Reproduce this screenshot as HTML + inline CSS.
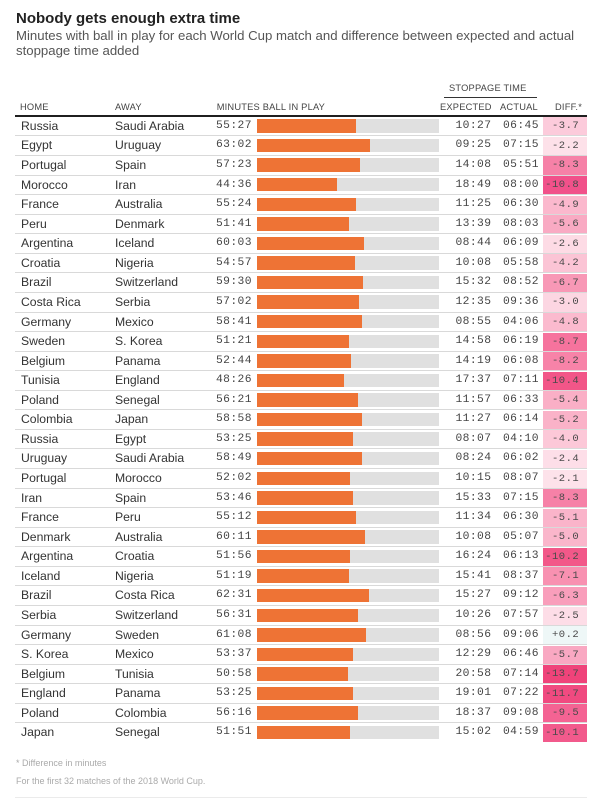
<!DOCTYPE html>
<html><head><meta charset="utf-8">
<style>
html,body{margin:0;padding:0;background:#fff;}
body{width:600px;height:799px;position:relative;overflow:hidden;font-family:"Liberation Sans",sans-serif;}
.t{position:absolute;left:16px;top:11.3px;font-weight:bold;font-size:15px;line-height:15px;color:#222;white-space:nowrap;}
.st{position:absolute;left:16px;top:28px;font-size:13.2px;line-height:15px;color:#555;white-space:nowrap;}
.hd{position:absolute;font-size:9.3px;line-height:12px;color:#444;letter-spacing:0.2px;white-space:nowrap;}
.thick{position:absolute;left:15px;width:572px;top:114.8px;height:2px;background:#1f1f1f;}
.sl{position:absolute;left:444px;width:93px;top:97px;height:1px;background:#333;}
.r{position:absolute;left:0;width:600px;height:19.57px;line-height:19.57px;}
.r::before{content:"";position:absolute;left:15px;width:572px;top:-1px;height:1px;background:#d9d9d9;}
.r.f::before{display:none;}
.r span{position:absolute;top:0;white-space:nowrap;}
.h,.a{font-size:12.2px;color:#333;}
.h{left:21px;}
.a{left:115px;}
.m,.e,.c{font-family:"Liberation Mono",monospace;font-size:11.3px;letter-spacing:0.4px;color:#444;}
.m{left:216px;}
.e{left:455.5px;}
.c{left:503px;}
.bg{position:absolute;left:256.7px;top:2.5px;height:13.4px;width:182px;background:#e0e0e0;}
.fg{position:absolute;left:256.7px;top:2.5px;height:13.4px;background:#ee7335;}
.r b{position:absolute;left:543.3px;top:0.5px;width:43.4px;height:18.5px;line-height:18.5px;text-align:right;box-sizing:border-box;padding-right:7.5px;font-weight:normal;font-family:"Liberation Mono",monospace;font-size:10.5px;letter-spacing:0.5px;color:#4a4a4a;white-space:nowrap;}
.ft{position:absolute;left:16px;font-size:9px;line-height:12px;color:#aaa;white-space:nowrap;}
.bl{position:absolute;left:15px;width:572px;top:797px;height:1px;background:#ebebeb;}
</style></head><body>
<div class="t">Nobody gets enough extra time</div>
<div class="st">Minutes with ball in play for each World Cup match and difference between expected and actual<br>stoppage time added</div>

<div class="hd" style="left:449px;top:82.3px;">STOPPAGE TIME</div>
<div class="sl"></div>
<div class="hd" style="left:20px;top:101px;">HOME</div>
<div class="hd" style="left:115px;top:101px;">AWAY</div>
<div class="hd" style="left:216.7px;top:101px;">MINUTES BALL IN PLAY</div>
<div class="hd" style="left:440px;top:101px;">EXPECTED</div>
<div class="hd" style="left:500px;top:101px;">ACTUAL</div>
<div class="hd" style="left:555px;top:101px;">DIFF.*</div>
<div class="thick"></div>

<div class="r f" style="top:116.8px"><span class="h">Russia</span><span class="a">Saudi Arabia</span><span class="m">55:27</span><i class="bg"></i><i class="fg" style="width:99.5px"></i><span class="e">10:27</span><span class="c">06:45</span><b style="background:#fccbdb">-3.7</b></div>
<div class="r" style="top:136.37px"><span class="h">Egypt</span><span class="a">Uruguay</span><span class="m">63:02</span><i class="bg"></i><i class="fg" style="width:113.1px"></i><span class="e">09:25</span><span class="c">07:15</span><b style="background:#fde1e9">-2.2</b></div>
<div class="r" style="top:155.94px"><span class="h">Portugal</span><span class="a">Spain</span><span class="m">57:23</span><i class="bg"></i><i class="fg" style="width:103px"></i><span class="e">14:08</span><span class="c">05:51</span><b style="background:#f681a7">-8.3</b></div>
<div class="r" style="top:175.51px"><span class="h">Morocco</span><span class="a">Iran</span><span class="m">44:36</span><i class="bg"></i><i class="fg" style="width:80.1px"></i><span class="e">18:49</span><span class="c">08:00</span><b style="background:#f1518a">-10.8</b></div>
<div class="r" style="top:195.08px"><span class="h">France</span><span class="a">Australia</span><span class="m">55:24</span><i class="bg"></i><i class="fg" style="width:99.4px"></i><span class="e">11:25</span><span class="c">06:30</span><b style="background:#fbb8cd">-4.9</b></div>
<div class="r" style="top:214.65px"><span class="h">Peru</span><span class="a">Denmark</span><span class="m">51:41</span><i class="bg"></i><i class="fg" style="width:92.8px"></i><span class="e">13:39</span><span class="c">08:03</span><b style="background:#f9aac3">-5.6</b></div>
<div class="r" style="top:234.22px"><span class="h">Argentina</span><span class="a">Iceland</span><span class="m">60:03</span><i class="bg"></i><i class="fg" style="width:107.8px"></i><span class="e">08:44</span><span class="c">06:09</span><b style="background:#fddbe5">-2.6</b></div>
<div class="r" style="top:253.79px"><span class="h">Croatia</span><span class="a">Nigeria</span><span class="m">54:57</span><i class="bg"></i><i class="fg" style="width:98.6px"></i><span class="e">10:08</span><span class="c">05:58</span><b style="background:#fbc4d5">-4.2</b></div>
<div class="r" style="top:273.36px"><span class="h">Brazil</span><span class="a">Switzerland</span><span class="m">59:30</span><i class="bg"></i><i class="fg" style="width:106.8px"></i><span class="e">15:32</span><span class="c">08:52</span><b style="background:#f898b6">-6.7</b></div>
<div class="r" style="top:292.93px"><span class="h">Costa Rica</span><span class="a">Serbia</span><span class="m">57:02</span><i class="bg"></i><i class="fg" style="width:102.4px"></i><span class="e">12:35</span><span class="c">09:36</span><b style="background:#fcd6e2">-3.0</b></div>
<div class="r" style="top:312.5px"><span class="h">Germany</span><span class="a">Mexico</span><span class="m">58:41</span><i class="bg"></i><i class="fg" style="width:105.3px"></i><span class="e">08:55</span><span class="c">04:06</span><b style="background:#fbbace">-4.8</b></div>
<div class="r" style="top:332.07px"><span class="h">Sweden</span><span class="a">S. Korea</span><span class="m">51:21</span><i class="bg"></i><i class="fg" style="width:92.2px"></i><span class="e">14:58</span><span class="c">06:19</span><b style="background:#f6739d">-8.7</b></div>
<div class="r" style="top:351.64px"><span class="h">Belgium</span><span class="a">Panama</span><span class="m">52:44</span><i class="bg"></i><i class="fg" style="width:94.7px"></i><span class="e">14:19</span><span class="c">06:08</span><b style="background:#f783a8">-8.2</b></div>
<div class="r" style="top:371.21px"><span class="h">Tunisia</span><span class="a">England</span><span class="m">48:26</span><i class="bg"></i><i class="fg" style="width:86.9px"></i><span class="e">17:37</span><span class="c">07:11</span><b style="background:#f25688">-10.4</b></div>
<div class="r" style="top:390.78px"><span class="h">Poland</span><span class="a">Senegal</span><span class="m">56:21</span><i class="bg"></i><i class="fg" style="width:101.1px"></i><span class="e">11:57</span><span class="c">06:33</span><b style="background:#faafc6">-5.4</b></div>
<div class="r" style="top:410.35px"><span class="h">Colombia</span><span class="a">Japan</span><span class="m">58:58</span><i class="bg"></i><i class="fg" style="width:105.8px"></i><span class="e">11:27</span><span class="c">06:14</span><b style="background:#fab2c8">-5.2</b></div>
<div class="r" style="top:429.92px"><span class="h">Russia</span><span class="a">Egypt</span><span class="m">53:25</span><i class="bg"></i><i class="fg" style="width:95.9px"></i><span class="e">08:07</span><span class="c">04:10</span><b style="background:#fcc8d8">-4.0</b></div>
<div class="r" style="top:449.49px"><span class="h">Uruguay</span><span class="a">Saudi Arabia</span><span class="m">58:49</span><i class="bg"></i><i class="fg" style="width:105.6px"></i><span class="e">08:24</span><span class="c">06:02</span><b style="background:#fddee8">-2.4</b></div>
<div class="r" style="top:469.06px"><span class="h">Portugal</span><span class="a">Morocco</span><span class="m">52:02</span><i class="bg"></i><i class="fg" style="width:93.4px"></i><span class="e">10:15</span><span class="c">08:07</span><b style="background:#fde2ea">-2.1</b></div>
<div class="r" style="top:488.63px"><span class="h">Iran</span><span class="a">Spain</span><span class="m">53:46</span><i class="bg"></i><i class="fg" style="width:96.5px"></i><span class="e">15:33</span><span class="c">07:15</span><b style="background:#f681a7">-8.3</b></div>
<div class="r" style="top:508.2px"><span class="h">France</span><span class="a">Peru</span><span class="m">55:12</span><i class="bg"></i><i class="fg" style="width:99.1px"></i><span class="e">11:34</span><span class="c">06:30</span><b style="background:#fab4ca">-5.1</b></div>
<div class="r" style="top:527.77px"><span class="h">Denmark</span><span class="a">Australia</span><span class="m">60:11</span><i class="bg"></i><i class="fg" style="width:108px"></i><span class="e">10:08</span><span class="c">05:07</span><b style="background:#fab6cb">-5.0</b></div>
<div class="r" style="top:547.34px"><span class="h">Argentina</span><span class="a">Croatia</span><span class="m">51:56</span><i class="bg"></i><i class="fg" style="width:93.2px"></i><span class="e">16:24</span><span class="c">06:13</span><b style="background:#f25889">-10.2</b></div>
<div class="r" style="top:566.91px"><span class="h">Iceland</span><span class="a">Nigeria</span><span class="m">51:19</span><i class="bg"></i><i class="fg" style="width:92.1px"></i><span class="e">15:41</span><span class="c">08:37</span><b style="background:#f891b1">-7.1</b></div>
<div class="r" style="top:586.48px"><span class="h">Brazil</span><span class="a">Costa Rica</span><span class="m">62:31</span><i class="bg"></i><i class="fg" style="width:112.2px"></i><span class="e">15:27</span><span class="c">09:12</span><b style="background:#f99ebb">-6.3</b></div>
<div class="r" style="top:606.05px"><span class="h">Serbia</span><span class="a">Switzerland</span><span class="m">56:31</span><i class="bg"></i><i class="fg" style="width:101.4px"></i><span class="e">10:26</span><span class="c">07:57</span><b style="background:#fddde7">-2.5</b></div>
<div class="r" style="top:625.62px"><span class="h">Germany</span><span class="a">Sweden</span><span class="m">61:08</span><i class="bg"></i><i class="fg" style="width:109.7px"></i><span class="e">08:56</span><span class="c">09:06</span><b style="background:#eef7f7">+0.2</b></div>
<div class="r" style="top:645.19px"><span class="h">S. Korea</span><span class="a">Mexico</span><span class="m">53:37</span><i class="bg"></i><i class="fg" style="width:96.2px"></i><span class="e">12:29</span><span class="c">06:46</span><b style="background:#f9a8c2">-5.7</b></div>
<div class="r" style="top:664.76px"><span class="h">Belgium</span><span class="a">Tunisia</span><span class="m">50:58</span><i class="bg"></i><i class="fg" style="width:91.5px"></i><span class="e">20:58</span><span class="c">07:14</span><b style="background:#ef437a">-13.7</b></div>
<div class="r" style="top:684.33px"><span class="h">England</span><span class="a">Panama</span><span class="m">53:25</span><i class="bg"></i><i class="fg" style="width:95.9px"></i><span class="e">19:01</span><span class="c">07:22</span><b style="background:#f04a80">-11.7</b></div>
<div class="r" style="top:703.9px"><span class="h">Poland</span><span class="a">Colombia</span><span class="m">56:16</span><i class="bg"></i><i class="fg" style="width:101px"></i><span class="e">18:37</span><span class="c">09:08</span><b style="background:#f46393">-9.5</b></div>
<div class="r" style="top:723.47px"><span class="h">Japan</span><span class="a">Senegal</span><span class="m">51:51</span><i class="bg"></i><i class="fg" style="width:93.1px"></i><span class="e">15:02</span><span class="c">04:59</span><b style="background:#f25a8c">-10.1</b></div>

<div class="ft" style="top:756.5px;">* Difference in minutes</div>
<div class="ft" style="top:775px;">For the first 32 matches of the 2018 World Cup.</div>
<div class="bl"></div>
</body></html>
